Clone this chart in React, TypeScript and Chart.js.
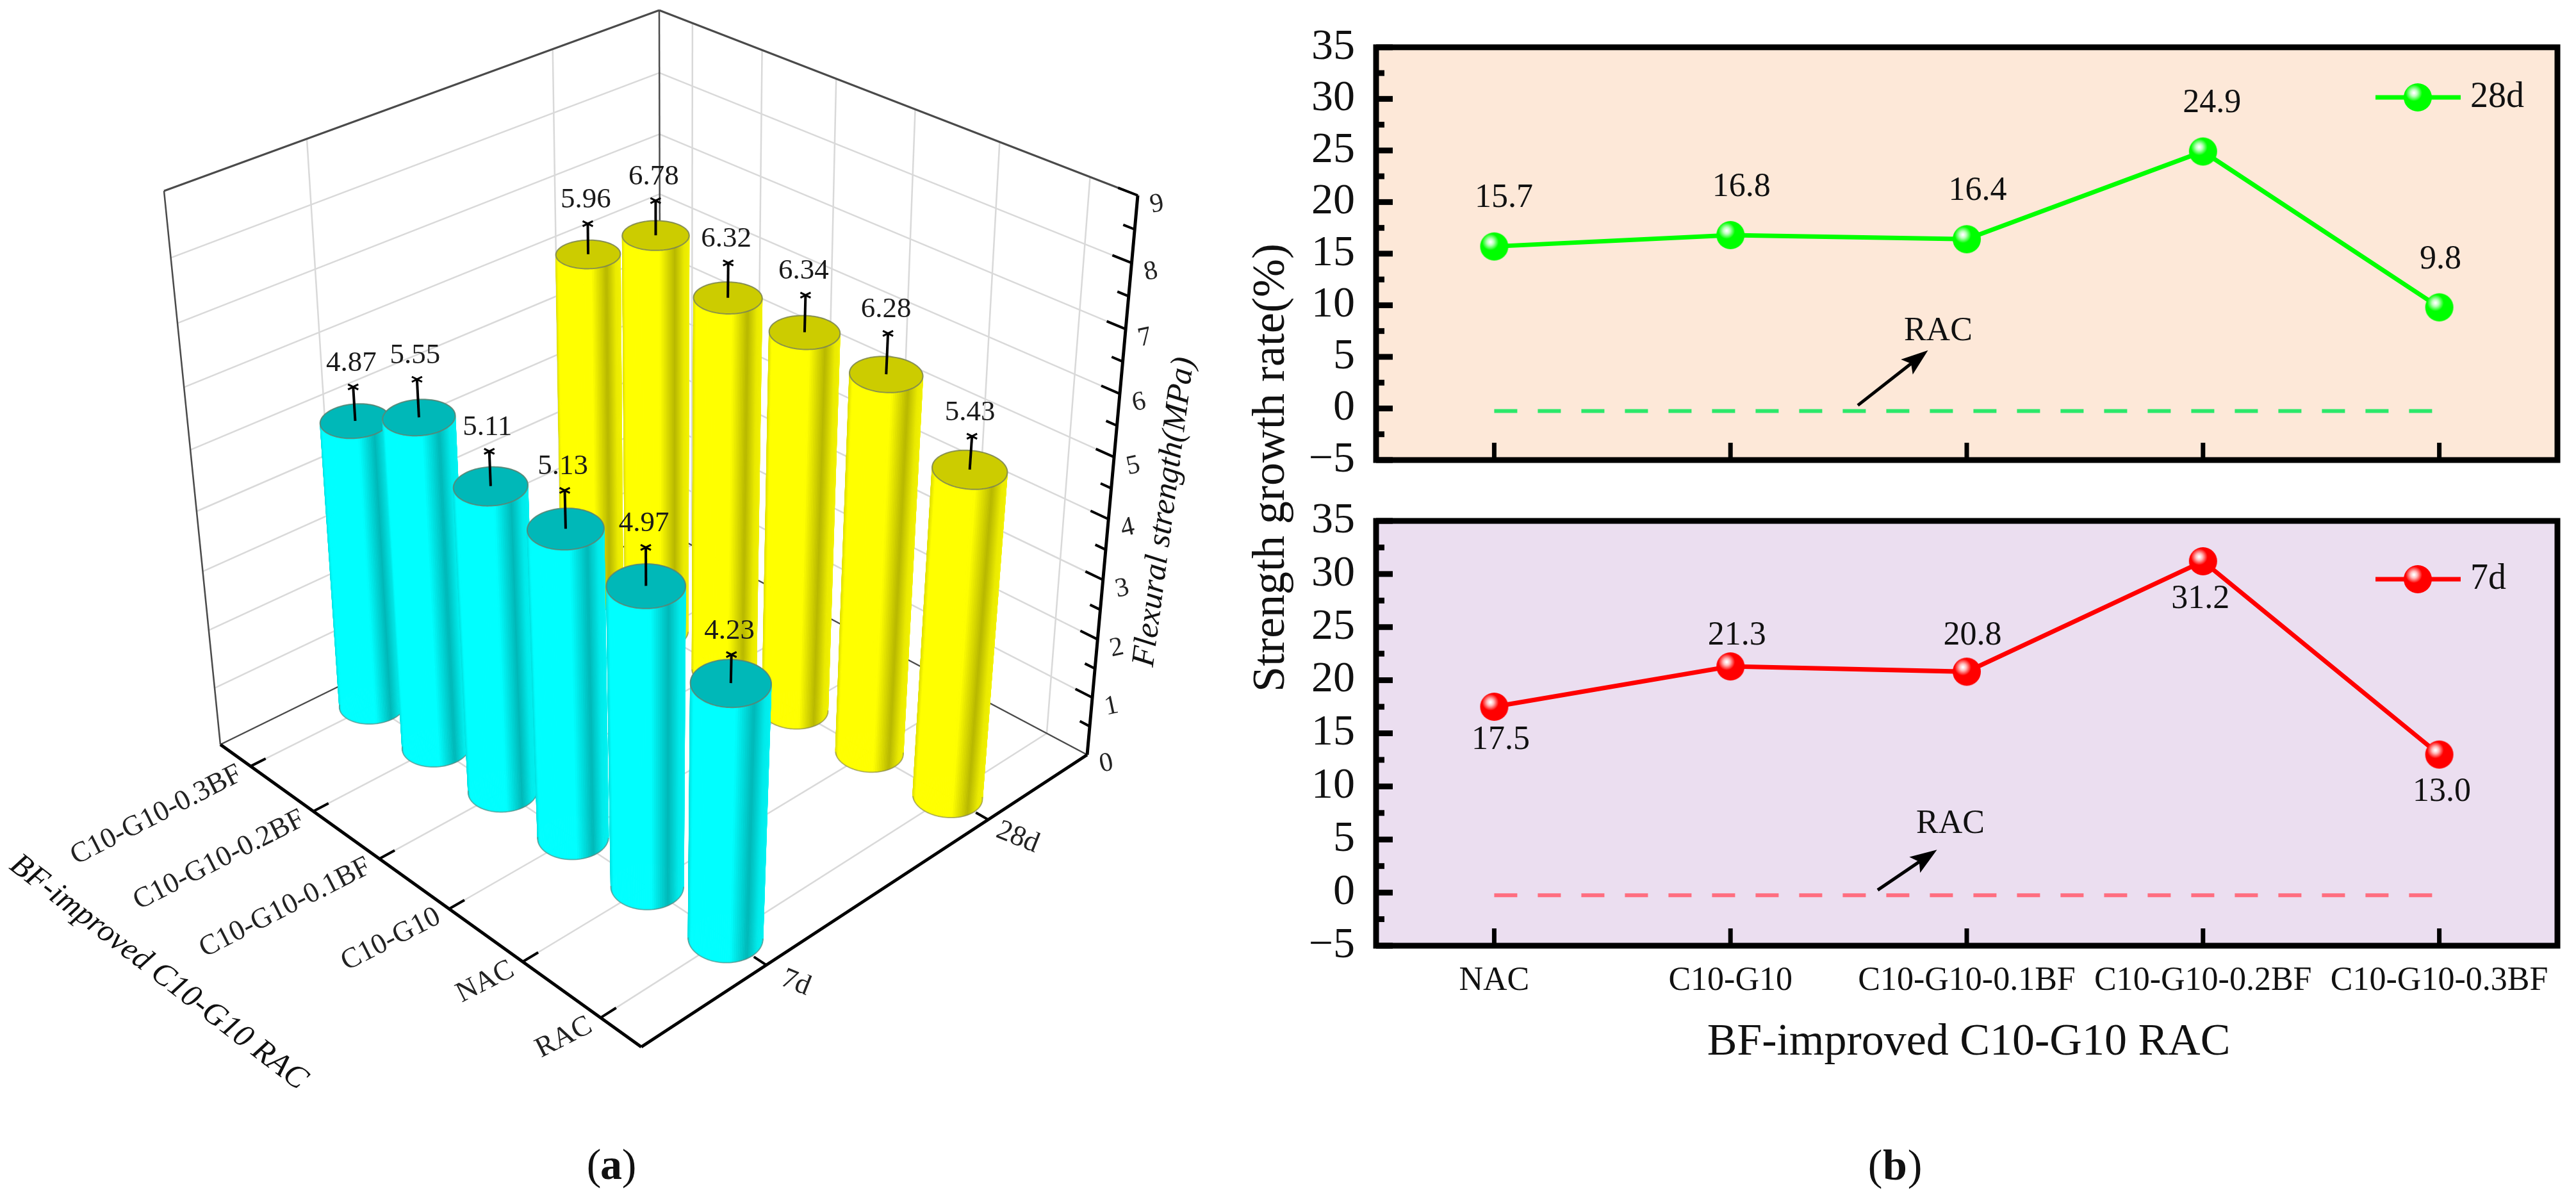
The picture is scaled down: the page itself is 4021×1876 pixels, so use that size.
import React, { useEffect, useRef } from "react";
import { Chart, registerables } from "chart.js";
Chart.register(...registerables);

const W = 4021, H = 1876;
const SERIF = '"Liberation Serif", serif';

// ---------- data ----------
const cats3d = ["C10-G10-0.3BF", "C10-G10-0.2BF", "C10-G10-0.1BF", "C10-G10", "NAC", "RAC"];
const ages3d = ["7d", "28d"];
const flex7d = [4.87, 5.55, 5.11, 5.13, 4.97, 4.23];
const flex28d = [5.96, 6.78, 6.32, 6.34, 6.28, 5.43];
const err7d = [0.55, 0.6, 0.55, 0.6, 0.6, 0.45];
const err28d = [0.5, 0.55, 0.55, 0.58, 0.63, 0.52];

const catsB = ["NAC", "C10-G10", "C10-G10-0.1BF", "C10-G10-0.2BF", "C10-G10-0.3BF"];
const growth28d = [15.7, 16.8, 16.4, 24.9, 9.8];
const growth7d = [17.5, 21.3, 20.8, 31.2, 13.0];
const racLevel = [-0.25, -0.25, -0.25, -0.25, -0.25];

// ---------- projection of the 3-D box (pixel corners of the box) ----------
type P = [number, number];
const FL: P = [344, 1162], FF: P = [1001, 1634], FR: P = [1697, 1178], FB: P = [1031, 825];
const TL: P = [256, 298], TF: P = [995, 745], TR: P = [1776, 305], TB: P = [1029, 16];
const PERSP = 0.91;

function homography(p0: P, p1: P, p2: P, p3: P) {
  const dx1 = p1[0] - p2[0], dx2 = p3[0] - p2[0], dx3 = p0[0] - p1[0] + p2[0] - p3[0];
  const dy1 = p1[1] - p2[1], dy2 = p3[1] - p2[1], dy3 = p0[1] - p1[1] + p2[1] - p3[1];
  const den = dx1 * dy2 - dx2 * dy1;
  const g = (dx3 * dy2 - dx2 * dy3) / den, h = (dx1 * dy3 - dx3 * dy1) / den;
  const a = p1[0] - p0[0] + g * p1[0], b = p3[0] - p0[0] + h * p3[0], c = p0[0];
  const d = p1[1] - p0[1] + g * p1[1], e = p3[1] - p0[1] + h * p3[1], f = p0[1];
  return (u: number, v: number): P => {
    const w = g * u + h * v + 1;
    return [(a * u + b * v + c) / w, (d * u + e * v + f) / w];
  };
}
const floorH = homography(FL, FF, FR, FB);
const topH = homography(TL, TF, TR, TB);
function proj(a: number, b: number, t: number): P {
  const s = (PERSP * t) / (1 + (PERSP - 1) * t);
  const p = floorH(a, b), q = topH(a, b);
  return [p[0] + (q[0] - p[0]) * s, p[1] + (q[1] - p[1]) * s];
}

function line(ctx: any, p: P, q: P, color: string, width: number) {
  ctx.strokeStyle = color;
  ctx.lineWidth = width;
  ctx.beginPath();
  ctx.moveTo(p[0], p[1]);
  ctx.lineTo(q[0], q[1]);
  ctx.stroke();
}
function text(ctx: any, s: string, x: number, y: number, font: string, rot = 0, align = "center", color = "#111") {
  ctx.save();
  ctx.translate(x, y);
  ctx.rotate((rot * Math.PI) / 180);
  ctx.font = font;
  ctx.fillStyle = color;
  ctx.textAlign = align;
  ctx.textBaseline = "middle";
  ctx.fillText(s, 0, 0);
  ctx.restore();
}
function shade(t: number) {
  const stops = [[0, 0.88], [0.04, 1], [0.55, 1], [0.78, 0.72], [0.92, 0.92], [1, 0.95]];
  for (let i = 1; i < stops.length; i++) {
    if (t <= stops[i][0]) {
      const f = (t - stops[i - 1][0]) / (stops[i][0] - stops[i - 1][0]);
      return stops[i - 1][1] + (stops[i][1] - stops[i - 1][1]) * f;
    }
  }
  return 0.95;
}
function rgb(c: number[], k: number) {
  return `rgb(${Math.round(c[0] * k)},${Math.round(c[1] * k)},${Math.round(c[2] * k)})`;
}
function cylinder(ctx: any, a: number, b: number, r: number, t: number, col: number[], capK: number) {
  const N = 120;
  const ring = (tt: number) => {
    const out: P[] = [];
    for (let i = 0; i < N; i++) {
      const th = (i / N) * Math.PI * 2;
      out.push(proj(a + r * Math.cos(th), b + r * Math.sin(th), tt));
    }
    return out;
  };
  const bot = ring(0), top = ring(t);
  const xs = bot.map((p) => p[0]);
  const minX = Math.min(...xs), maxX = Math.max(...xs);
  const order = bot.map((_, i) => i).sort((i, j) => {
    const d = (k: number) => {
      const th = ((k + 0.5) / N) * Math.PI * 2;
      return Math.cos(th) - Math.sin(th);
    };
    return d(i) - d(j);
  });
  for (const i of order) {
    const j = (i + 1) % N;
    const tx = ((bot[i][0] + bot[j][0]) / 2 - minX) / (maxX - minX);
    const c = rgb(col, shade(tx));
    ctx.fillStyle = c;
    ctx.strokeStyle = c;
    ctx.lineWidth = 1;
    ctx.beginPath();
    ctx.moveTo(bot[i][0], bot[i][1]);
    ctx.lineTo(bot[j][0], bot[j][1]);
    ctx.lineTo(top[j][0], top[j][1]);
    ctx.lineTo(top[i][0], top[i][1]);
    ctx.closePath();
    ctx.fill();
    ctx.stroke();
  }
  ctx.strokeStyle = "rgba(120,120,110,0.55)";
  ctx.lineWidth = 2;
  ctx.beginPath();
  for (const i of order.slice(N / 2)) {
    ctx.moveTo(bot[i][0], bot[i][1]);
    const n = bot[(i + 1) % N];
    ctx.lineTo(n[0], n[1]);
  }
  ctx.stroke();
  ctx.fillStyle = rgb(col, capK);
  ctx.strokeStyle = "rgba(110,120,100,0.75)";
  ctx.lineWidth = 2;
  ctx.beginPath();
  top.forEach((p, i) => (i ? ctx.lineTo(p[0], p[1]) : ctx.moveTo(p[0], p[1])));
  ctx.closePath();
  ctx.fill();
  ctx.stroke();
}

const bar3dPlugin = {
  id: "bar3d",
  afterDatasetsDraw(chart: any) {
    const ctx = chart.ctx;
    const { x: xs, age: ages, y: ys } = chart.scales;
    const fracA = (i: number) => (xs.getPixelForValue(i) - xs.left) / xs.width;
    const fracB = (i: number) => (ages.getPixelForValue(i) - ages.left) / ages.width;
    const fracT = (v: number) => (ys.bottom - ys.getPixelForValue(v)) / ys.height;
    ctx.save();
    ctx.lineCap = "butt";
    const GRID = "#d9d9d9";
    const levels = ys.ticks.map((t: any) => t.value);
    // walls
    for (const v of levels) {
      if (Number.isInteger(v) && v > 0 && v < 9) {
        const t = fracT(v);
        line(ctx, proj(0, 0, t), proj(0, 1, t), GRID, 2.5);
        line(ctx, proj(0, 1, t), proj(1, 1, t), GRID, 2.5);
      }
    }
    cats3d.forEach((_, i) => {
      const a = fracA(i);
      line(ctx, proj(a, 1, 0), proj(a, 1, 1), GRID, 2.5);
      line(ctx, proj(a, 0, 0), proj(a, 1, 0), GRID, 2.5);
    });
    ages3d.forEach((_, j) => {
      const b = fracB(j);
      line(ctx, proj(0, b, 0), proj(0, b, 1), GRID, 2.5);
      line(ctx, proj(0, b, 0), proj(1, b, 0), GRID, 2.5);
    });
    // box edges
    const EDGE = "#4a4a4a";
    line(ctx, FL, TL, EDGE, 2.5);
    line(ctx, TL, TB, EDGE, 3);
    line(ctx, TB, TR, EDGE, 3);
    line(ctx, TB, FB, EDGE, 2.5);
    line(ctx, FL, FB, EDGE, 2.5);
    line(ctx, FB, FR, EDGE, 2.5);
    // bold axes and ticks
    line(ctx, FL, FF, "#000", 5);
    line(ctx, FF, FR, "#000", 5);
    line(ctx, FR, TR, "#000", 5);
    for (const v of levels) {
      const t = fracT(v);
      const major = Number.isInteger(v);
      if (v > 0) line(ctx, proj(1, 1, t), proj(major ? 0.966 : 0.98, 1, t), "#000", 4);
      if (major) {
        const p = proj(1, 1, t);
        text(ctx, String(v), p[0] + 30, p[1] + 14, `42px ${SERIF}`, -12, "center", "#222");
      }
    }
    cats3d.forEach((c, i) => {
      const a = fracA(i);
      const p = proj(a, 0, 0);
      line(ctx, p, proj(a, 0.03, 0), "#000", 4);
      text(ctx, c, p[0] - 16, p[1] + 10, `45px ${SERIF}`, -27, "right", "#222");
    });
    ages3d.forEach((c, j) => {
      const b = fracB(j);
      const p = proj(1, b, 0);
      line(ctx, p, proj(0.975, b, 0), "#000", 4);
      text(ctx, c, p[0] + 46, p[1] + 28, `45px ${SERIF}`, 22, "center", "#222");
    });
    text(ctx, "BF-improved C10-G10 RAC", 247, 1518, `italic 50px ${SERIF}`, 37.5, "center", "#111");
    text(ctx, "Flexural strength(MPa)", 1818, 799, `italic 51px ${SERIF}`, -82.5, "center", "#111");
    text(ctx, "(", 927, 1822, `68px ${SERIF}`);
    text(ctx, "a", 954, 1822, `bold 68px ${SERIF}`);
    text(ctx, ")", 982, 1822, `68px ${SERIF}`);
    // cylinders (far row first)
    const rows = [
      { j: 1, vals: chart.data.datasets[1].data, errs: err28d, col: [255, 255, 0], cap: 0.8 },
      { j: 0, vals: chart.data.datasets[0].data, errs: err7d, col: [0, 255, 255], cap: 0.72 },
    ];
    for (const row of rows) {
      row.vals.forEach((v: number, i: number) => {
        const a = fracA(i), b = fracB(row.j), t = fracT(v);
        cylinder(ctx, a, b, 0.055, t, row.col, row.cap);
        const c = proj(a, b, t), tip = proj(a, b, fracT(v + row.errs[i]));
        line(ctx, c, tip, "#000", 4);
        line(ctx, [tip[0] - 8, tip[1] - 4], [tip[0] + 8, tip[1] + 4], "#000", 3);
        line(ctx, [tip[0] - 8, tip[1] + 4], [tip[0] + 8, tip[1] - 4], "#000", 3);
        text(ctx, v.toFixed(2), tip[0] - 3, tip[1] - 37, `45px ${SERIF}`, 0, "center", "#1a1a1a");
      });
    }
    ctx.restore();
  },
};

// ---------- panel (b) ----------
function ball(color: string) {
  const c = document.createElement("canvas");
  c.width = c.height = 46;
  const g = c.getContext("2d")!;
  g.fillStyle = color;
  g.beginPath();
  g.arc(23, 23, 22, 0, Math.PI * 2);
  g.fill();
  const gr = g.createRadialGradient(17, 16, 1, 17, 16, 13);
  gr.addColorStop(0, "#ffffff");
  gr.addColorStop(0.35, "rgba(255,255,255,0.75)");
  gr.addColorStop(1, "rgba(255,255,255,0)");
  g.fillStyle = gr;
  g.beginPath();
  g.arc(17, 16, 13, 0, Math.PI * 2);
  g.fill();
  return c;
}

const panelPlugin = {
  id: "panel",
  beforeDatasetsDraw(chart: any, _: any, o: any) {
    const ctx = chart.ctx;
    const { left, right, top, bottom } = chart.chartArea;
    ctx.save();
    ctx.fillStyle = o.bg;
    ctx.fillRect(left, top, right - left, bottom - top);
    ctx.restore();
  },
  afterDatasetsDraw(chart: any, _: any, o: any) {
    const ctx = chart.ctx;
    const { left, right, top, bottom } = chart.chartArea;
    const { x, y } = chart.scales;
    ctx.save();
    // ticks
    for (const t of y.ticks) {
      const py = y.getPixelForValue(t.value);
      const major = t.value % 5 === 0;
      line(ctx, [left, py], [left + (major ? 26 : 13), py], "#000", 9);
    }
    catsB.forEach((_, i) => {
      const px = x.getPixelForValue(i);
      line(ctx, [px, bottom], [px, bottom - 27], "#000", 7);
    });
    // frame
    ctx.strokeStyle = "#000";
    ctx.lineWidth = 9;
    ctx.strokeRect(left, top, right - left, bottom - top);
    // value labels
    const ds = chart.data.datasets[0];
    ds.data.forEach((v: number, i: number) => {
      const [dx, dy] = o.offsets[i];
      text(ctx, v.toFixed(1), x.getPixelForValue(i) + dx, y.getPixelForValue(v) + dy, `52px ${SERIF}`);
    });
    // RAC annotation
    const [xa, ya, xb, yb, xt, yt] = o.arrow;
    const A: P = [x.getPixelForValue(xa), y.getPixelForValue(ya)];
    const B: P = [x.getPixelForValue(xb), y.getPixelForValue(yb)];
    const ang = Math.atan2(B[1] - A[1], B[0] - A[0]);
    const L = 42, w = 15;
    const base: P = [B[0] - Math.cos(ang) * L * 0.8, B[1] - Math.sin(ang) * L * 0.8];
    line(ctx, A, base, "#000", 5);
    ctx.fillStyle = "#000";
    ctx.beginPath();
    ctx.moveTo(B[0], B[1]);
    ctx.lineTo(B[0] - Math.cos(ang) * L - Math.sin(ang) * w, B[1] - Math.sin(ang) * L + Math.cos(ang) * w);
    ctx.lineTo(base[0], base[1]);
    ctx.lineTo(B[0] - Math.cos(ang) * L + Math.sin(ang) * w, B[1] - Math.sin(ang) * L - Math.cos(ang) * w);
    ctx.closePath();
    ctx.fill();
    text(ctx, "RAC", x.getPixelForValue(xt), y.getPixelForValue(yt), `52px ${SERIF}`);
    // legend
    const ly = o.legendY;
    line(ctx, [3708, ly], [3841, ly], ds.borderColor, 7);
    ctx.drawImage(ds.pointStyle, 3774 - 23, ly - 23);
    text(ctx, ds.label, 3856, ly, `56px ${SERIF}`, 0, "left");
    // outer titles on the lower chart
    if (o.titles) {
      text(ctx, "BF-improved C10-G10 RAC", 3073, 1628, `70px ${SERIF}`);
      text(ctx, "Strength growth rate(%)", 1985, 730, `72px ${SERIF}`, -90);
      text(ctx, "(", 2927, 1823, `68px ${SERIF}`);
      text(ctx, "b", 2958, 1823, `bold 68px ${SERIF}`);
      text(ctx, ")", 2989, 1823, `68px ${SERIF}`);
    }
    ctx.restore();
  },
};

function linePanelConfig(opts: any) {
  return {
    type: "line",
    data: {
      labels: catsB,
      datasets: [
        {
          label: opts.label,
          data: opts.values,
          borderColor: opts.color,
          borderWidth: 7,
          pointStyle: ball(opts.color),
          pointRadius: 22,
          tension: 0,
        },
        {
          label: "RAC",
          data: racLevel,
          borderColor: opts.dash,
          borderWidth: 6,
          borderDash: [36, 32],
          pointRadius: 0,
          tension: 0,
        },
      ],
    },
    options: {
      responsive: false,
      animation: false,
      devicePixelRatio: 1,
      layout: {
        padding: { left: opts.left - 120, top: opts.top, right: W - opts.right, bottom: H - opts.bottom - 110 },
      },
      plugins: {
        legend: { display: false },
        tooltip: { enabled: false },
        panel: {
          bg: opts.bg,
          offsets: opts.offsets,
          arrow: opts.arrow,
          legendY: opts.legendY,
          titles: opts.titles,
        },
      },
      scales: {
        x: {
          type: "category",
          offset: true,
          grid: { display: false, drawTicks: false },
          border: { display: false },
          afterFit: (s: any) => { s.height = 110; },
          ticks: {
            display: opts.showX,
            autoSkip: false,
            maxRotation: 0,
            minRotation: 0,
            padding: 24,
            color: "#111",
            font: { family: SERIF, size: 52 },
          },
        },
        y: {
          type: "linear",
          min: -5,
          max: 35,
          grid: { display: false, drawTicks: false },
          border: { display: false },
          afterFit: (s: any) => { s.width = 120; },
          ticks: {
            stepSize: 2.5,
            autoSkip: false,
            padding: 33,
            color: "#111",
            font: { family: SERIF, size: 68 },
            callback: (v: number) => (v % 5 === 0 ? (v < 0 ? "\u2212" + Math.abs(v) : String(v)) : ""),
          },
        },
      },
    },
    plugins: [panelPlugin],
  };
}

const bar3dConfig: any = {
  type: "bar",
  data: {
    labels: cats3d,
    datasets: [
      { label: "7d", data: flex7d, backgroundColor: "transparent", borderWidth: 0 },
      { label: "28d", data: flex28d, backgroundColor: "transparent", borderWidth: 0 },
    ],
  },
  options: {
    responsive: false,
    animation: false,
    devicePixelRatio: 1,
    plugins: { legend: { display: false }, tooltip: { enabled: false } },
    scales: {
      x: { type: "category", display: false },
      age: { type: "category", axis: "x", labels: ages3d, display: false },
      y: { type: "linear", min: 0, max: 9, display: false, ticks: { stepSize: 0.5 } },
    },
  },
  plugins: [bar3dPlugin],
};

const canvasStyle: React.CSSProperties = { position: "absolute", left: 0, top: 0, display: "block" };

export default function App() {
  const a = useRef<HTMLCanvasElement>(null);
  const b = useRef<HTMLCanvasElement>(null);
  const c = useRef<HTMLCanvasElement>(null);
  useEffect(() => {
    document.body.style.margin = "0";
    document.body.style.background = "#fff";
    const charts = [
      new Chart(a.current!, bar3dConfig),
      new Chart(b.current!, linePanelConfig({
        label: "28d", values: growth28d, color: "#00ff00", dash: "#2ce86a",
        left: 2148, right: 3998, top: 57, bottom: 718, bg: "#fde8d8", showX: false, legendY: 152,
        offsets: [[15, -75], [17, -75], [17, -75], [14, -75], [2, -74]],
        arrow: [1.539, 0.3, 1.836, 5.63, 1.879, 7.45],
      }) as any),
      new Chart(c.current!, linePanelConfig({
        label: "7d", values: growth7d, color: "#ff0000", dash: "#ff6e80",
        left: 2148, right: 3998, top: 813, bottom: 1476, bg: "#ebdef0", showX: true, legendY: 904, titles: true,
        offsets: [[10, 52], [10, -48], [9, -56], [-4, 59], [4, 59]],
        arrow: [1.623, 0.24, 1.874, 4.04, 1.931, 6.45],
      }) as any),
    ];
    return () => charts.forEach((ch) => ch.destroy());
  }, []);
  return (
    <div style={{ position: "relative", width: W, height: H, overflow: "hidden" }}>
      <canvas ref={a} width={W} height={H} style={canvasStyle} />
      <canvas ref={b} width={W} height={H} style={canvasStyle} />
      <canvas ref={c} width={W} height={H} style={canvasStyle} />
    </div>
  );
}
